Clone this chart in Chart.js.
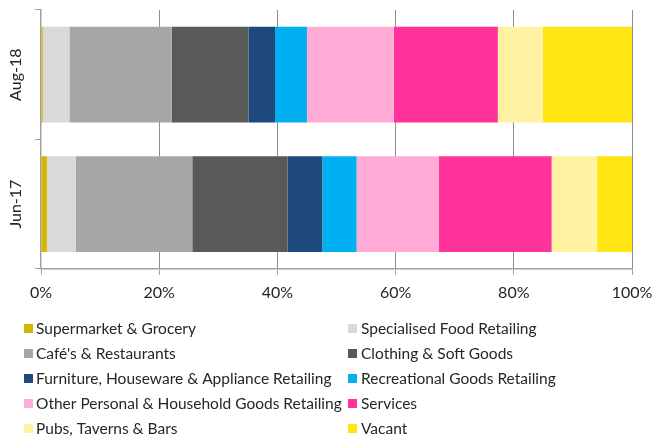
<!DOCTYPE html>
<html>
<head>
<meta charset="utf-8">
<script src="https://cdn.jsdelivr.net/npm/chart.js@4/dist/chart.umd.min.js"></script>
<style>
  html, body { margin: 0; padding: 0; background: #ffffff; }
  #wrap { width: 655px; height: 437px; position: relative; }
</style>
</head>
<body>
<div id="wrap"><canvas id="c" width="655" height="437"></canvas></div>
<script>
// Survey periods (one bar each, top to bottom)
const periods = ['Aug-18', 'Jun-17'];

// Tenancy mix categories, in stacking order
const categories = [
  'Supermarket & Grocery',
  'Specialised Food Retailing',
  'Café\'s & Restaurants',
  'Clothing & Soft Goods',
  'Furniture, Houseware & Appliance Retailing',
  'Recreational Goods Retailing',
  'Other Personal & Household Goods Retailing',
  'Services',
  'Pubs, Taverns & Bars',
  'Vacant'
];

// Share of shopfronts (%) per category
const aug18 = [0.3, 4.5, 17.3, 13.0, 4.5, 5.4, 14.7, 17.6, 7.6, 15.1];
const jun17 = [1.0, 4.9, 19.7, 16.1, 5.9, 5.8, 13.9, 19.1, 7.7, 5.9];

const colours = [
  '#D1B700', '#D9D9D9', '#A6A6A6', '#595959', '#1F497D',
  '#00B0F0', '#FFABD5', '#FF3399', '#FFF3A3', '#FFE512'
];

// Percentage axis ticks
const xTicks = [0, 20, 40, 60, 80, 100];

const FONT = 'Lato, "Noto Sans", sans-serif';
const TEXT = '#262626';
const AXIS = '#A0A0A0';

const datasets = categories.map((name, i) => ({
  label: name,
  data: [aug18[i], jun17[i]],
  backgroundColor: colours[i],
  borderWidth: 0
}));

// Rotated period labels on the left of each bar
const periodLabels = {
  id: 'periodLabels',
  afterDraw(chart) {
    const ctx = chart.ctx;
    const y = chart.scales.y;
    ctx.save();
    ctx.font = '16px ' + FONT;
    ctx.fillStyle = TEXT;
    ctx.textAlign = 'center';
    ctx.textBaseline = 'middle';
    periods.forEach((p, i) => {
      const py = y.getPixelForValue(i);
      ctx.save();
      ctx.translate(16, py);
      ctx.rotate(-Math.PI / 2);
      ctx.fillText(p, 0, 0);
      ctx.restore();
    });
    ctx.restore();
  }
};

// Two-column legend below the plot
const gridLegend = {
  id: 'gridLegend',
  afterDraw(chart) {
    const ctx = chart.ctx;
    ctx.save();
    ctx.font = '15.5px ' + FONT;
    ctx.textBaseline = 'middle';
    ctx.textAlign = 'left';
    chart.data.datasets.forEach((ds, i) => {
      const col = i % 2;
      const row = Math.floor(i / 2);
      const bx = col === 0 ? 24 : 348;
      const tx = col === 0 ? 36 : 361;
      const cy = 328.5 + row * 25;
      ctx.fillStyle = ds.backgroundColor;
      ctx.fillRect(bx, cy - 4.5, 9, 9);
      ctx.fillStyle = TEXT;
      ctx.fillText(ds.label, tx, cy + 0.5);
    });
    ctx.restore();
  }
};

new Chart(document.getElementById('c'), {
  type: 'bar',
  data: { labels: periods, datasets },
  plugins: [periodLabels, gridLegend],
  options: {
    indexAxis: 'y',
    responsive: false,
    animation: false,
    devicePixelRatio: 1,
    layout: { padding: { top: 10, right: 23, bottom: 127, left: 0 } },
    plugins: {
      legend: { display: false },
      tooltip: { enabled: false }
    },
    datasets: { bar: { barPercentage: 0.74, categoryPercentage: 1 } },
    scales: {
      x: {
        stacked: true,
        min: 0,
        max: 100,
        afterBuildTicks(scale) {
          scale.ticks = xTicks.map(v => ({ value: v }));
        },
        afterFit(scale) {
          // the end labels fit inside the fixed outer margins
          scale.paddingLeft = 0;
          scale.paddingRight = 0;
        },
        ticks: {
          callback: v => v + '%',
          font: { family: FONT, size: 16 },
          color: TEXT,
          padding: 8,
          maxRotation: 0
        },
        grid: {
          color: ctx => ctx.tick && ctx.tick.value === 0 ? 'rgba(0,0,0,0)' : '#8C8C8C',
          borderDash: [1, 2],
          lineWidth: 1,
          drawTicks: true,
          tickLength: 6,
          tickColor: AXIS,
          tickBorderDash: []
        },
        border: { display: true, color: AXIS, width: 1.5 }
      },
      y: {
        stacked: true,
        afterFit(scale) { scale.width = 41; },
        ticks: { display: false },
        grid: {
          drawOnChartArea: false,
          drawTicks: true,
          tickLength: 6,
          tickColor: AXIS,
          offset: true
        },
        border: { display: true, color: AXIS, width: 1.5 }
      }
    }
  }
});
</script>
</body>
</html>
